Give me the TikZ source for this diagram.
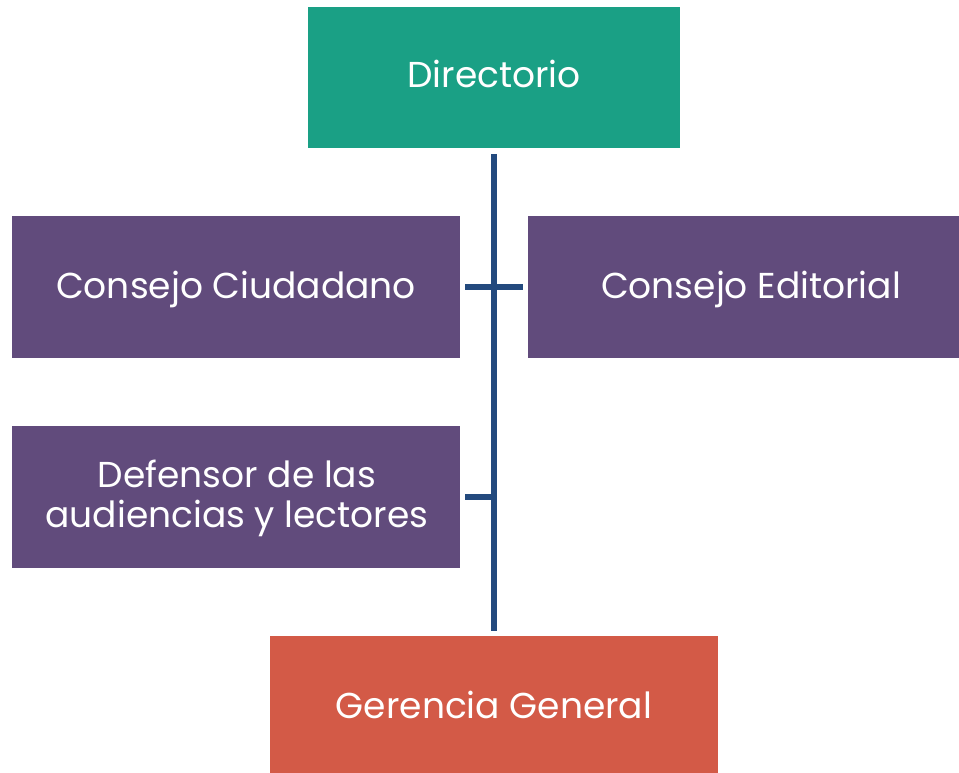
\documentclass[tikz,border=0pt]{standalone}
\usepackage{fontspec}
\setmainfont{Poppins}
\definecolor{teal1}{HTML}{1AA085}
\definecolor{purp}{HTML}{614B7C}
\definecolor{redd}{HTML}{D35A47}
\definecolor{lineb}{HTML}{234A7E}
\begin{document}
\begin{tikzpicture}[x=1pt,y=-1pt,
  box/.style={inner sep=0pt,anchor=base,text=white,font=\fontsize{36}{40}\selectfont,align=center},
  conn/.style={draw=lineb,line width=5.5pt}]
\useasboundingbox (0,0) rectangle (959,773);
\fill[teal1] (308,7) rectangle (680,148);
\node[box] (dir) at (494,88) {Directorio};
\fill[purp] (12,216) rectangle (460,358);
\node[box] (cc) at (236,298) {Consejo Ciudadano};
\fill[purp] (528,216) rectangle (959,358);
\node[box] (ce) at (751,298) {Consejo Editorial};
\fill[purp] (12,426) rectangle (460,568);
\node[box] (def) at (237,527) {Defensor de las\\audiencias y lectores};
\fill[redd] (270,636) rectangle (718,773);
\node[box] (ger) at (494,718) {Gerencia General};
\coordinate (top) at (494,154);
\coordinate (bot) at (494,631);
\coordinate (cl) at (465,287);
\coordinate (cr) at (523,287);
\coordinate (dl) at (465,497);
\coordinate (dr) at (494,497);
\draw[conn] (top) -- (bot);
\draw[conn] (cl) -- (cr);
\draw[conn] (dl) -- (dr);
\end{tikzpicture}
\end{document}
